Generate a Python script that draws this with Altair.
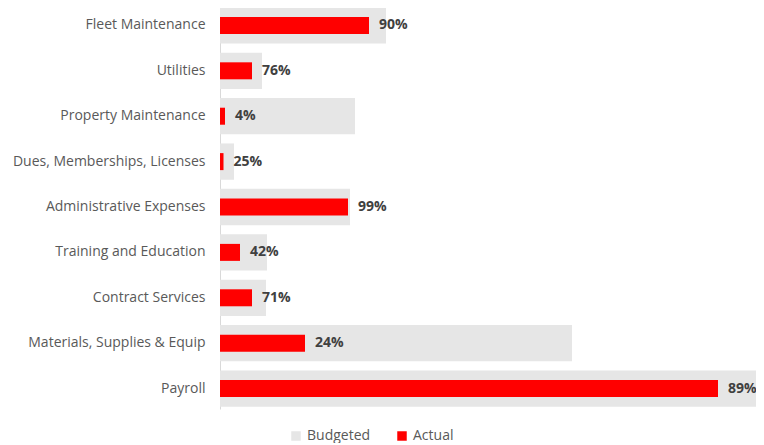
import altair as alt
import pandas as pd

categories = ["Fleet Maintenance", "Utilities", "Property Maintenance",
              "Dues, Memberships, Licenses", "Administrative Expenses",
              "Training and Education", "Contract Services",
              "Materials, Supplies & Equip", "Payroll"]
budgeted = [166, 42, 135, 14, 130, 47, 46, 352, 560]
actual = [149, 32, 5, 3.5, 128, 20, 32, 85, 498]
pct_labels = ["90%", "76%", "4%", "25%", "99%", "42%", "71%", "24%", "89%"]

df = pd.DataFrame({
    "category": categories,
    "Budgeted": budgeted,
    "Actual": actual,
    "label": pct_labels,
})

FONT = "Open Sans"
y_enc = alt.Y("category:N", sort=categories, title=None,
              scale=alt.Scale(paddingInner=0.2, paddingOuter=0.05),
              axis=alt.Axis(ticks=False, domainColor="#d9d9d9", labelColor="#595959",
                            labelFontSize=14, labelFont=FONT, labelPadding=15,
                            labelLimit=400, grid=False))
x_scale = alt.Scale(domain=[0, 536], nice=False, zero=True)
color_scale = alt.Scale(domain=["Budgeted", "Actual"], range=["#e6e6e6", "#ff0000"])

base = alt.Chart(df)

bud = base.transform_calculate(series="'Budgeted'").mark_bar(clip=True).encode(
    y=y_enc,
    x=alt.X("Budgeted:Q", scale=x_scale, axis=None),
    color=alt.Color("series:N", scale=color_scale, title=None,
                    legend=alt.Legend(orient="none", legendX=69, legendY=424,
                                      direction="horizontal", symbolType="square",
                                      symbolSize=90, labelFontSize=14, labelFont=FONT,
                                      labelColor="#595959", columnPadding=24,
                                      symbolStrokeWidth=0)),
)

act = base.transform_calculate(series="'Actual'").mark_bar(size=17, clip=True).encode(
    y=y_enc,
    x=alt.X("Actual:Q", scale=x_scale, axis=None),
    color=alt.Color("series:N", scale=color_scale, title=None),
)

txt = base.mark_text(align="left", dx=10, fontWeight="bold", fontSize=14,
                     font=FONT, color="#404040").encode(
    y=y_enc,
    x=alt.X("Actual:Q", scale=x_scale, axis=None),
    text="label:N",
)

chart = alt.layer(bud, act, txt).properties(
    width=536, height=404,
    autosize=alt.AutoSizeParams(type="none"),
    padding={"top": -3, "left": 212, "right": 0, "bottom": 34},
).configure(font=FONT).configure_view(stroke=None, strokeWidth=0)

chart.save("out.html", embed_options={"renderer": "svg", "actions": False})
